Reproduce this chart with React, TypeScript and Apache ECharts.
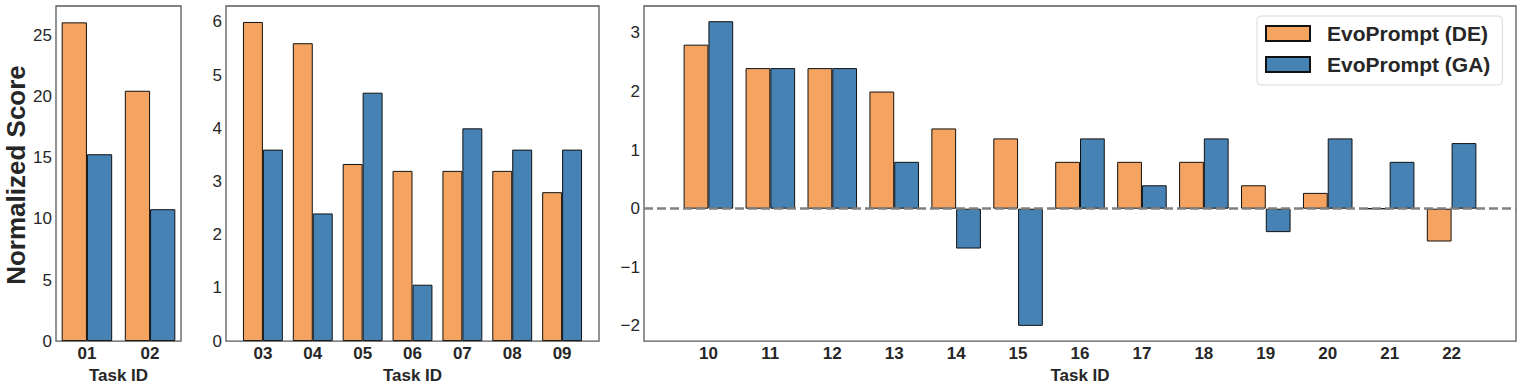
import React, { useEffect, useRef } from "react";
import * as echarts from "echarts";

const SERIES_DE = "EvoPrompt (DE)";
const SERIES_GA = "EvoPrompt (GA)";

const cats1 = ["01", "02"];
const de1 = [26.1, 20.5];
const ga1 = [15.3, 10.8];

const cats2 = ["03", "04", "05", "06", "07", "08", "09"];
const de2 = [6.0, 5.6, 3.33, 3.2, 3.2, 3.2, 2.8];
const ga2 = [3.6, 2.4, 4.67, 1.06, 4.0, 3.6, 3.6];

const cats3 = ["10", "11", "12", "13", "14", "15", "16", "17", "18", "19", "20", "21", "22"];
const de3 = [2.8, 2.4, 2.4, 2.0, 1.37, 1.2, 0.8, 0.8, 0.8, 0.4, 0.27, 0, -0.56];
const ga3 = [3.2, 2.4, 2.4, 0.8, -0.68, -2.0, 1.2, 0.4, 1.2, -0.4, 1.2, 0.8, 1.12];

const yTicks1 = [0, 5, 10, 15, 20, 25];
const yTicks2 = [0, 1, 2, 3, 4, 5, 6];
const yTicks3 = [-2, -1, 0, 1, 2, 3];

const ORANGE = "#F4A460";
const BLUE = "#4682B4";
const TEXT = "#262626";
const FRAME = "#595959";
const FONT = "'Liberation Sans', Arial, sans-serif";

export default function App() {
  const ref = useRef<HTMLDivElement>(null);
  useEffect(() => {
    document.body.style.margin = "0";
    const chart = echarts.init(ref.current!, null, { renderer: "svg" });

    const panels = [
      { cats: cats1, de: de1, ga: ga1, yt: yTicks1, ymin: 0, ymax: 27.44, xmin: -0.49, xmax: 1.49, left: 56, width: 125 },
      { cats: cats2, de: de2, ga: ga2, yt: yTicks2, ymin: 0, ymax: 6.3, xmin: -0.74, xmax: 6.74, left: 226, width: 373 },
      { cats: cats3, de: de3, ga: ga3, yt: yTicks3, ymin: -2.26, ymax: 3.46, xmin: -1.04, xmax: 13.04, left: 644, width: 872 },
    ];

    const grid: any[] = [];
    const xAxis: any[] = [];
    const yAxis: any[] = [];
    const series: any[] = [];

    panels.forEach((p, i) => {
      grid.push({
        left: p.left,
        top: 6,
        width: p.width,
        height: 338,
        show: true,
        borderColor: FRAME,
        borderWidth: 1.3,
        backgroundColor: "transparent",
        containLabel: false,
      });
      xAxis.push({
        type: "value",
        gridIndex: i,
        min: p.xmin,
        max: p.xmax,
        axisLine: { show: false },
        axisTick: { show: false },
        splitLine: { show: false },
        axisLabel: {
          customValues: p.cats.map((_, k) => k),
          formatter: (v: number) => p.cats[Math.round(v)] ?? "",
          color: TEXT,
          fontFamily: FONT,
          fontWeight: "bold",
          fontSize: 17,
          margin: 4,
        },
        name: "Task ID",
        nameLocation: "middle",
        nameGap: 21,
        nameTextStyle: { color: TEXT, fontFamily: FONT, fontWeight: "bold", fontSize: 17 },
      });
      yAxis.push({
        type: "value",
        gridIndex: i,
        min: p.ymin,
        max: p.ymax,
        axisLine: { show: false },
        axisTick: { show: false },
        splitLine: { show: false },
        axisLabel: {
          customValues: p.yt,
          formatter: (v: number) => String(v).replace("-", "\u2212"),
          color: TEXT,
          fontFamily: FONT,
          fontSize: 17,
          margin: 4,
        },
      });
      const common = {
        type: "bar",
        xAxisIndex: i,
        yAxisIndex: i,
        barGap: "0%",
        barCategoryGap: "20%",
      };
      series.push({
        ...common,
        name: SERIES_DE,
        itemStyle: { color: ORANGE, borderColor: "#111", borderWidth: 1 },
        data: p.de.map((v, k) => [k, v]),
      });
      series.push({
        ...common,
        name: SERIES_GA,
        itemStyle: { color: BLUE, borderColor: "#111", borderWidth: 1 },
        data: p.ga.map((v, k) => [k, v]),
        markLine:
          i === 2
            ? {
                silent: true,
                symbol: "none",
                label: { show: false },
                lineStyle: { color: "#808080", type: [9, 4], width: 2.5 },
                data: [{ yAxis: 0 }],
                z: 10,
              }
            : undefined,
      });
    });

    chart.setOption({
      animation: false,
      backgroundColor: "#fff",
      textStyle: { fontFamily: FONT },
      grid,
      xAxis,
      yAxis,
      series,
      legend: {
        data: [
          { name: SERIES_DE, icon: "rect" },
          { name: SERIES_GA, icon: "rect" },
        ],
        orient: "vertical",
        left: 1257,
        top: 16,
        itemWidth: 44,
        itemHeight: 15,
        itemGap: 10,
        padding: [7, 12, 10, 8],
        borderColor: "#d9d9d9",
        borderWidth: 1,
        borderRadius: 4,
        backgroundColor: "rgba(255,255,255,0.8)",
        textStyle: {
          color: TEXT,
          fontFamily: FONT,
          fontWeight: "bold",
          fontSize: 21,
          padding: [0, 0, 0, 12],
        },
        selectedMode: false,
      },
      graphic: [
        {
          type: "text",
          x: 16,
          y: 175,
          rotation: Math.PI / 2,
          style: {
            text: "Normalized Score",
            fill: TEXT,
            font: `bold 26px ${FONT}`,
            align: "center",
            verticalAlign: "middle",
          },
        },
      ],
    });
    return () => chart.dispose();
  }, []);
  return <div ref={ref} style={{ width: 1522, height: 389 }} />;
}
